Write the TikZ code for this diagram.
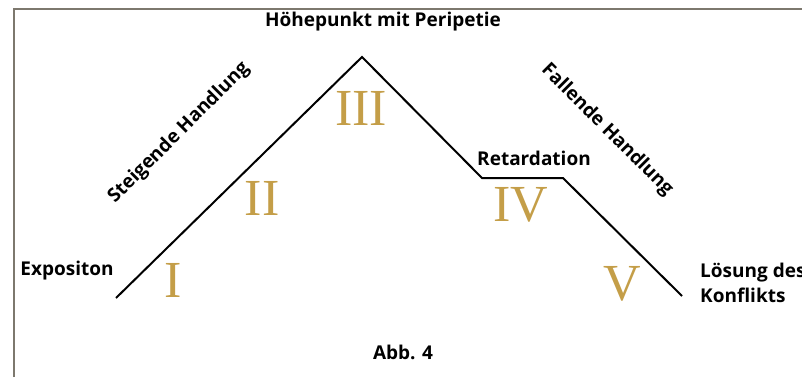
\documentclass[tikz,border=0pt]{standalone}
\usepackage{fontspec}
\setmainfont{Open Sans}
\newfontfamily\romanfont{Liberation Serif}
\definecolor{gold}{RGB}{196,158,72}
\definecolor{framegray}{RGB}{125,120,110}
\begin{document}
\begin{tikzpicture}[x=1pt,y=-1pt,
  lbl/.style={font=\bfseries\fontsize{19}{25}\selectfont, inner sep=0pt},
  numeral/.style={font=\romanfont\fontsize{52}{52}\selectfont, text=gold, inner sep=0pt},
  curve/.style={line width=2pt, line join=miter}]
\useasboundingbox (0,0) rectangle (802,377);
\draw[framegray, line width=1.2pt] (14,377) -- (14,9) -- (802,9);
\coordinate (s) at (116,298);
\coordinate (p) at (362,57);
\coordinate (r1) at (482,178);
\coordinate (r2) at (563,178);
\coordinate (e) at (682,296);
\draw[curve] (s) -- (p) -- (r1) -- (r2) -- (e);
\node[lbl] (hp) at (383,22) {Höhepunkt mit Peripetie};
\node[lbl, rotate=45] (sh) at (179,133) {Steigende Handlung};
\node[lbl, rotate=-45] (fh) at (607,130) {Fallende Handlung};
\node[lbl] (ex) at (67,271) {Expositon};
\node[lbl] (rt) at (534,158) {Retardation};
\node[lbl, anchor=west, align=left] (ls) at (700,283) {Lösung des\\Konflikts};
\node[lbl] (abb) at (403,352) {Abb. 4};
\node[numeral] (n1) at (173,280) {I};
\node[numeral] (n2) at (262,198) {II};
\node[numeral] (n3) at (361,108) {III};
\node[numeral] (n4) at (521,205) {IV};
\node[numeral] (n5) at (622,284) {V};
\end{tikzpicture}
\end{document}
